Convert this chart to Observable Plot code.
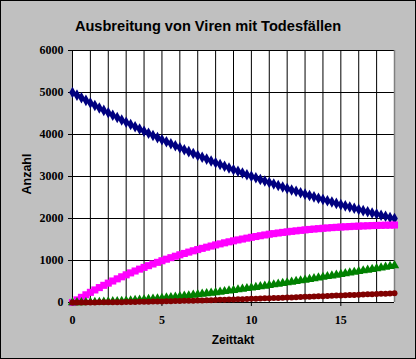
<!DOCTYPE html>
<html>
<head>
<meta charset="utf-8">
<script src="https://cdn.jsdelivr.net/npm/d3@7"></script>
<script src="https://cdn.jsdelivr.net/npm/@observablehq/plot@0.6"></script>
<style>
  html, body { margin: 0; padding: 0; background: #c0c0c0; }
  #chart { position: relative; width: 416px; height: 359px; background: #c0c0c0; box-shadow: inset 0 0 0 1px #000; overflow: hidden; }
  #chart svg { position: absolute; left: 0; top: 0; background: transparent; }
  .lbl { position: absolute; font-family: "Liberation Sans", Arial, sans-serif; font-weight: bold; color: #000; white-space: nowrap; }
  #title { left: 0; width: 416px; top: 17px; height: 18px; line-height: 18px; font-size: 14.6px; text-align: center; }
  #xlabel { left: 72px; width: 322px; top: 333px; height: 14px; line-height: 14px; font-size: 12px; text-align: center; }
  #ylabel { left: -23px; width: 100px; top: 167px; height: 14px; line-height: 14px; font-size: 12.5px; text-align: center; transform: rotate(-90deg); transform-origin: 50% 50%; }
</style>
</head>
<body>
<div id="chart">
  <div id="title" class="lbl">Ausbreitung von Viren mit Todesfällen</div>
  <div id="xlabel" class="lbl">Zeittakt</div>
  <div id="ylabel" class="lbl">Anzahl</div>
</div>
<script>
// Zeittakt (time steps)
const zeit = [0,0.25,0.5,0.75,1,1.25,1.5,1.75,2,2.25,2.5,2.75,3,3.25,3.5,3.75,4,4.25,4.5,4.75,5,5.25,5.5,5.75,6,6.25,6.5,6.75,7,7.25,7.5,7.75,8,8.25,8.5,8.75,9,9.25,9.5,9.75,10,10.25,10.5,10.75,11,11.25,11.5,11.75,12,12.25,12.5,12.75,13,13.25,13.5,13.75,14,14.25,14.5,14.75,15,15.25,15.5,15.75,16,16.25,16.5,16.75,17,17.25,17.5,17.75,18];

// Series 1 (navy, diamonds)
const gesunde = [5000,4937,4874,4813,4752,4692,4633,4574,4516,4459,4403,4347,4292,4238,4184,4131,4079,4028,3977,3926,3877,3828,3779,3732,3684,3638,3592,3546,3502,3457,3414,3371,3328,3286,3244,3203,3163,3123,3083,3044,3006,2968,2930,2893,2857,2821,2785,2750,2715,2681,2647,2613,2580,2548,2515,2484,2452,2421,2391,2360,2330,2301,2272,2243,2215,2187,2159,2132,2105,2078,2052,2026,2001];

// Series 2 (magenta, squares)
const infizierte = [0,62,123,183,242,299,355,409,461,512,563,612,659,705,750,794,836,877,917,956,994,1031,1067,1102,1136,1168,1200,1231,1260,1289,1317,1344,1371,1396,1421,1445,1468,1490,1511,1532,1552,1571,1590,1608,1626,1640,1655,1669,1682,1694,1706,1718,1729,1739,1749,1758,1767,1775,1783,1790,1797,1803,1808,1814,1818,1823,1827,1831,1834,1837,1840,1842,1845];

// Series 3 (green, triangles)
const genesene = [0,0,1,3,5,7,10,14,18,23,28,33,39,46,53,60,68,76,85,93,103,112,122,133,143,154,165,177,189,201,213,226,239,252,265,279,293,307,321,336,350,365,380,395,411,426,442,458,474,490,506,522,538,555,571,588,605,622,639,655,673,690,707,724,741,759,776,793,811,828,846,863,881];

// Series 4 (dark red, circles)
const tote = [0,0,0,1,1,2,3,3,5,6,7,8,10,11,13,15,17,19,21,23,26,28,31,33,36,39,41,44,47,50,53,56,60,63,66,70,73,77,80,84,88,91,95,99,103,107,110,114,118,122,126,131,135,139,143,147,151,155,160,164,168,172,177,181,185,190,194,198,203,207,211,216,220];

const xTicks = [0, 5, 10, 15];
const xGrid = [1,2,3,4,5,6,7,8,9,10,11,12,13,14,15,16,17];
const yTicks = [0, 1000, 2000, 3000, 4000, 5000, 6000];

const series = [
  {name: "s1", values: gesunde, color: "#000080", symbol: "diamond", r: 3.5, w: 3},
  {name: "s2", values: infizierte, color: "#ff00ff", symbol: "square", r: 4, w: 2},
  {name: "s3", values: genesene, color: "#008000", symbol: "triangle", r: 3.5, w: 2},
  {name: "s4", values: tote, color: "#800000", symbol: "circle", r: 3, w: 3.5}
];

const tickFont = {fontFamily: "'Liberation Serif', 'Times New Roman', serif", fontWeight: "bold", fontSize: 12};

const marks = [
  Plot.frame({fill: "white", stroke: null}),
  Plot.ruleX(xGrid, {stroke: "#000", strokeWidth: 1}),
  Plot.ruleY(yTicks, {stroke: "#000", strokeWidth: 1}),
  Plot.ruleX([0], {stroke: "#000", strokeWidth: 1}),
  Plot.ruleX([18], {stroke: "#808080", strokeWidth: 1.5}),
  Plot.axisY({ticks: yTicks, tickSize: 4, tickPadding: 5, tickFormat: d => String(d), label: null, ...tickFont}),
  Plot.axisX({ticks: xTicks, tickSize: 4, tickPadding: 9, tickFormat: d => String(d), label: null, ...tickFont})
];

for (const s of series) {
  const data = zeit.map((t, i) => ({t, v: s.values[i]}));
  marks.push(Plot.line(data, {x: "t", y: "v", stroke: s.color, strokeWidth: s.w}));
  marks.push(Plot.dot(data, {x: "t", y: "v", symbol: s.symbol, r: s.r, fill: s.color, stroke: null}));
}

const chart = Plot.plot({
  width: 416,
  height: 359,
  marginLeft: 72,
  marginRight: 22,
  marginTop: 50,
  marginBottom: 57,
  x: {domain: [0, 18]},
  y: {domain: [0, 6000]},
  style: {background: "transparent", color: "#000", overflow: "visible"},
  marks
});
document.getElementById("chart").appendChild(chart);
</script>
</body>
</html>
